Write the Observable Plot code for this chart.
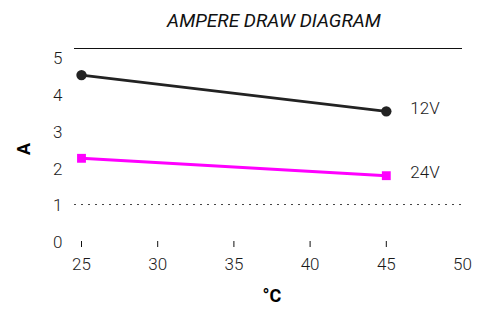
<!DOCTYPE html>
<html>
<head>
<meta charset="utf-8">
<script src="https://cdn.jsdelivr.net/npm/d3@7"></script>
<script src="https://cdn.jsdelivr.net/npm/@observablehq/plot@0.6"></script>
<style>
  html, body { margin: 0; padding: 0; background: #fff; }
  #title { height: 36px; box-sizing: border-box; padding-top: 12px; padding-left: 71px;
    text-align: center; font-family: Roboto, sans-serif; font-style: italic; font-size: 19px;
    line-height: 18px; color: #111; width: 477px; }
  #chart svg { display: block; }
</style>
</head>
<body>
<div id="title">AMPERE DRAW DIAGRAM</div>
<div id="chart"></div>
<script>
const temperatures = [25, 45];
const amps12V = [4.5, 3.52];
const amps24V = [2.25, 1.78];
const seriesNames = ["12V", "24V"];
const xTickLabels = [25, 30, 35, 40, 45, 50];
const xTickMarks = [25, 30, 35, 40, 45];
const yTickLabels = [0, 1, 2, 3, 4, 5];
const referenceLine = [1];
const yMax = 5.22;
const xLabel = "°C";
const yLabel = "A";

const rows12 = temperatures.map((t, i) => ({t, a: amps12V[i], s: seriesNames[0]}));
const rows24 = temperatures.map((t, i) => ({t, a: amps24V[i], s: seriesNames[1]}));
const lastPoints = [rows12[rows12.length - 1], rows24[rows24.length - 1]];

const chart = Plot.plot({
  width: 477,
  height: 275,
  marginLeft: 74,
  marginRight: 15,
  marginTop: 12,
  marginBottom: 70,
  style: {fontFamily: "Roboto, sans-serif", fontSize: "17px", fontWeight: 300, color: "#1a1a1a", background: "#fff"},
  x: {domain: [25, 50], insetLeft: 7},
  y: {domain: [0, yMax]},
  marks: [
    Plot.ruleY([yMax], {stroke: "#111", strokeWidth: 1.2}),
    Plot.ruleY(referenceLine, {stroke: "#444", strokeWidth: 1, strokeDasharray: "2,5"}),
    Plot.axisY(yTickLabels, {tickSize: 0, tickPadding: 12, dy: 1.5, label: null}),
    Plot.axisX(xTickMarks, {tickSize: 6, tickFormat: () => "", label: null, stroke: "#111"}),
    Plot.axisX(xTickLabels, {tickSize: 0, tickPadding: 16, label: null}),
    Plot.line(rows12, {x: "t", y: "a", stroke: "#222", strokeWidth: 2.8}),
    Plot.dot(rows12, {x: "t", y: "a", r: 5.2, fill: "#222"}),
    Plot.line(rows24, {x: "t", y: "a", stroke: "#ff00ff", strokeWidth: 3}),
    Plot.dot(rows24, {x: "t", y: "a", r: 5, symbol: "square", fill: "#ff00ff"}),
    Plot.text(lastPoints, {x: "t", y: "a", text: "s", textAnchor: "start", dx: 24, dy: -3, fill: "#1a1a1a"}),
    Plot.text([xLabel], {frameAnchor: "bottom", dy: 60, dx: 3.5, fontWeight: "bold", fontSize: 18, fill: "#000"}),
    Plot.text([yLabel], {frameAnchor: "left", rotate: -90, dx: -50, dy: 10, fontWeight: "bold", fontSize: 18, fill: "#000"})
  ]
});
document.getElementById("chart").appendChild(chart);
</script>
</body>
</html>
